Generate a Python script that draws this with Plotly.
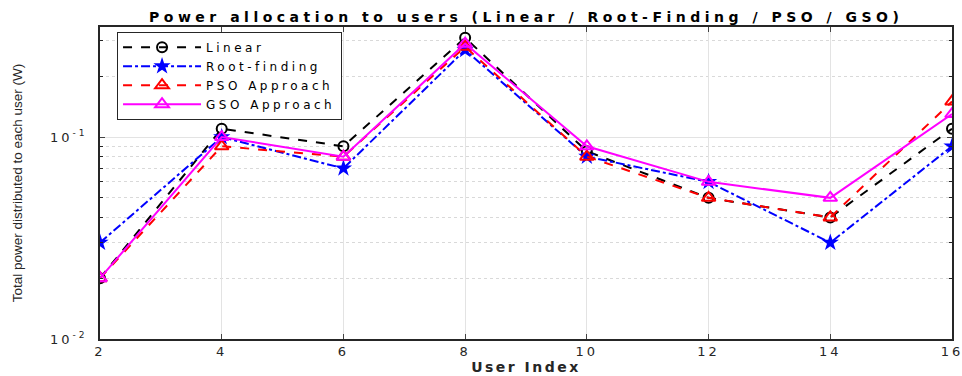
import plotly.graph_objects as go

users = [2, 4, 6, 8, 10, 12, 14, 16]
linear = [0.02, 0.11, 0.09, 0.31, 0.085, 0.05, 0.04, 0.11]
root_finding = [0.03, 0.10, 0.07, 0.27, 0.08, 0.06, 0.03, 0.09]
pso = [0.02, 0.09, 0.08, 0.28, 0.08, 0.05, 0.04, 0.15]
gso = [0.02, 0.10, 0.08, 0.29, 0.09, 0.06, 0.05, 0.13]

series_names = ["Linear", "Root-finding", "PSO Approach", "GSO Approach"]
y_tickvals = [0.01, 0.1]
y_ticklabels = ["10<sup>-2</sup>", "10<sup>-1</sup>"]
y_minorvals = [0.02, 0.03, 0.04, 0.05, 0.06, 0.07, 0.08, 0.09, 0.2, 0.3]
x_tickvals = [2, 4, 6, 8, 10, 12, 14, 16]
title_text = "Power allocation to users (Linear / Root-Finding / PSO / GSO)"
x_title = "User Index"
y_title = "Total power distributed to each user (W)"


def wide(s, ls):
    return f'<span style="letter-spacing:{ls}px">{s}</span>'


fig = go.Figure()
fig.add_trace(go.Scatter(x=users, y=linear, name=wide(series_names[0], 3.5), mode="lines+markers",
                         line=dict(color="black", width=2, dash="dash"),
                         marker=dict(symbol="circle-open", size=10, color="black", line=dict(width=2))))
fig.add_trace(go.Scatter(x=users, y=root_finding, name=wide(series_names[1], 3.5), mode="lines+markers",
                         line=dict(color="blue", width=2, dash="dashdot"),
                         marker=dict(symbol="star", size=13, color="blue")))
fig.add_trace(go.Scatter(x=users, y=pso, name=wide(series_names[2], 3.5), mode="lines+markers",
                         line=dict(color="red", width=2, dash="dash"),
                         marker=dict(symbol="triangle-up-open", size=12, color="red", line=dict(width=2))))
fig.add_trace(go.Scatter(x=users, y=gso, name=wide(series_names[3], 3.5), mode="lines+markers",
                         line=dict(color="magenta", width=2),
                         marker=dict(symbol="triangle-up-open", size=12, color="magenta", line=dict(width=2))))

fig.update_layout(
    width=962, height=376,
    margin=dict(l=100, r=10, t=27, b=37),
    paper_bgcolor="white", plot_bgcolor="white",
    font=dict(family="DejaVu Sans, Arial, sans-serif", size=13, color="#262626"),
    title=dict(text="<b>" + wide(title_text, 4.5) + "</b>",
               x=0.547, xanchor="center", y=0.955, yanchor="middle",
               font=dict(family="DejaVu Sans, Arial, sans-serif", size=14, color="black")),
    legend=dict(x=0.02, y=0.985, xanchor="left", yanchor="top",
                bgcolor="white", bordercolor="#262626", borderwidth=1,
                font=dict(size=12, color="black"), itemwidth=78,
                tracegroupgap=0),
    showlegend=True,
)
fig.update_xaxes(range=[2, 16], tickvals=x_tickvals,
                 ticktext=[wide(str(v), 3) for v in x_tickvals],
                 ticklabeloverflow="allow",
                 ticks="inside", ticklen=5,
                 showline=True, linecolor="#262626", linewidth=1.5, mirror="ticks",
                 showgrid=True, gridcolor="#e3e3e3", gridwidth=1, zeroline=False,
                 automargin=False,
                 tickfont=dict(size=13, color="#262626"),
                 title=dict(text="<b>" + wide(x_title, 2.5) + "</b>", font=dict(size=14, color="#262626"), standoff=0))
fig.update_yaxes(type="log", range=[-2, -0.455], tickvals=y_tickvals,
                 ticktext=[wide(t, 3) for t in y_ticklabels],
                 ticks="inside", ticklen=5, ticklabelstandoff=8,
                 showline=True, linecolor="#262626", linewidth=1.5, mirror="ticks",
                 showgrid=True, gridcolor="#e3e3e3", gridwidth=1, zeroline=False,
                 automargin=False,
                 minor=dict(tickvals=y_minorvals, ticks="inside", ticklen=3, showgrid=True,
                            gridcolor="#d9d9d9", griddash="dot", tickcolor="#262626"),
                 tickfont=dict(size=13, color="#262626"),
                 title=dict(text=y_title,
                            font=dict(family="Liberation Sans Narrow, Arial Narrow, Liberation Sans, sans-serif",
                                      size=13.5, color="#262626"),
                            standoff=24))

fig.write_html("out.html")
